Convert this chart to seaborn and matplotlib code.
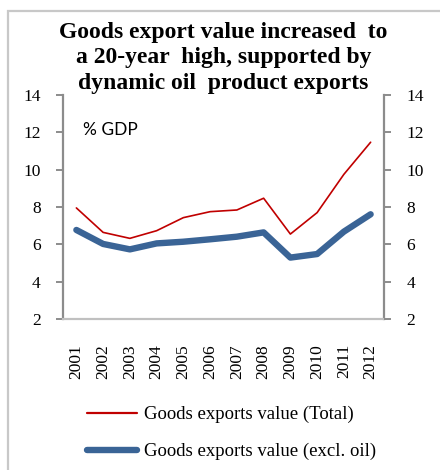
import matplotlib
matplotlib.use("Agg")
import matplotlib.pyplot as plt
import matplotlib.patches as mpatches
from matplotlib.lines import Line2D
import seaborn as sns
import pandas as pd

years = ["2001", "2002", "2003", "2004", "2005", "2006",
         "2007", "2008", "2009", "2010", "2011", "2012"]
total = [7.95, 6.64, 6.32, 6.73, 7.43, 7.75, 7.84, 8.47, 6.55, 7.70, 9.75, 11.47]
excl_oil = [6.77, 6.02, 5.73, 6.05, 6.14, 6.27, 6.41, 6.64, 5.29, 5.48, 6.68, 7.61]
y_ticks = [2, 4, 6, 8, 10, 12, 14]

label_total = "Goods exports value (Total)"
label_excl = "Goods exports value (excl. oil)"
red = "#C00000"
blue = "#3A6496"

df = pd.DataFrame({
    "year": years * 2,
    "value": total + excl_oil,
    "series": [label_total] * len(years) + [label_excl] * len(years),
})

sns.set_theme(style="white")
plt.rcParams["font.family"] = ["Liberation Serif", "DejaVu Serif"]
plt.rcParams["text.color"] = "black"
plt.rcParams["xtick.labelcolor"] = "black"
plt.rcParams["ytick.labelcolor"] = "black"

fig = plt.figure(figsize=(4.4, 4.7), dpi=100)
ax = fig.add_axes([63 / 440, 1 - 319 / 470, 321 / 440, 224 / 470])

palette = {label_total: red, label_excl: blue}
sizes = {label_total: 1.2, label_excl: 4.6}
sns.lineplot(data=df, x="year", y="value", hue="series", size="series",
             palette=palette, sizes=sizes, ax=ax, legend=False,
             hue_order=[label_total, label_excl],
             size_order=[label_total, label_excl], sort=False)
for line in ax.lines:
    line.set_solid_capstyle("round")
    line.set_solid_joinstyle("round")
ax.lines[0].set_zorder(3)
ax.lines[1].set_zorder(2)

ax.set_xlim(-0.5, len(years) - 0.5)
ax.set_ylim(2, 14)
ax.set_yticks(y_ticks)
ax.set_xlabel("")
ax.set_ylabel("")
ax.grid(False)

ax.spines["top"].set_visible(False)
ax.spines["left"].set_color("#8c8c8c")
ax.spines["right"].set_color("#8c8c8c")
ax.spines["bottom"].set_color("#c0c0c0")
for s in ["left", "right", "bottom"]:
    ax.spines[s].set_linewidth(1.6)

ax.tick_params(axis="y", direction="out", length=5, width=1.4,
               color="#8c8c8c", labelsize=12.5, pad=11,
               left=True, right=False, labelleft=True, labelright=False)
ax.tick_params(axis="x", length=0, labelsize=12.5, pad=18, labelrotation=90)

ax2 = ax.twinx()
ax2.set_ylim(ax.get_ylim())
ax2.set_yticks(y_ticks)
ax2.tick_params(axis="y", direction="out", length=5, width=1.4,
                color="#8c8c8c", labelsize=12.5, pad=11, right=True)
for s in ax2.spines.values():
    s.set_visible(False)
ax2.grid(False)

ax.text(0.062, 0.844, "% GDP", transform=ax.transAxes, fontsize=12.5,
        family=["Lato", "DejaVu Sans"], va="center", ha="left")

fig.text(0.508, 1 - 58 / 470,
         "Goods export value increased  to\na 20-year  high, supported by\ndynamic oil  product exports",
         ha="center", va="center", fontsize=17, fontweight="bold",
         linespacing=1.27)

# legend entries below the plot
handles = [Line2D([0], [0], color=red, lw=1.6, solid_capstyle="round"),
           Line2D([0], [0], color=blue, lw=4.6, solid_capstyle="round")]
fig.legend(handles, [label_total, label_excl], loc="upper left",
           bbox_to_anchor=(70 / 440, 1 - 389 / 470), frameon=False,
           fontsize=13.5, handlelength=2.67, handletextpad=0.37,
           labelspacing=1.05)

# outer frame
fig.add_artist(mpatches.Rectangle((7.5 / 440, -0.1), 1.2, 1 - 11.5 / 470 + 0.1,
                                  transform=fig.transFigure, fill=False,
                                  edgecolor="#c8c8c8", linewidth=1.6))

fig.savefig("out.png", dpi=100)
